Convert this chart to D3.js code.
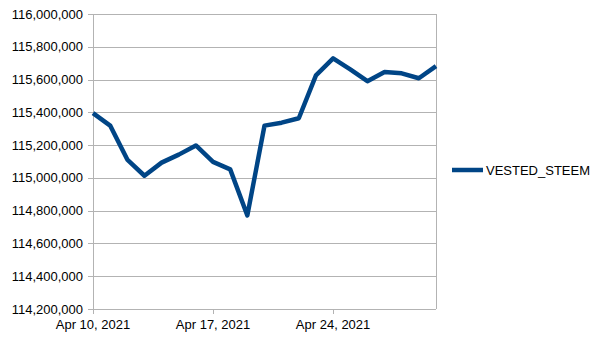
<!DOCTYPE html>
<html>
<head>
<meta charset="utf-8">
<script src="https://cdn.jsdelivr.net/npm/d3@7"></script>
<style>
	body { margin: 0; background: #fff; }
	text { font-family: "Liberation Sans", Arial, sans-serif; fill: #000; }
</style>
</head>
<body>
<div id="chart"></div>
<script>
// Daily values, Apr 10 .. Apr 30, 2021
const startDate = '2021-04-10';
const seriesName = 'VESTED_STEEM';
const vestedSteem = [
	115395000, 115319000, 115112000, 115013000, 115093000, 115142000, 115198000,
	115098000, 115052000, 114771000, 115319000, 115337000, 115364000, 115626000,
	115729000, 115662000, 115590000, 115646000, 115638000, 115608000, 115682000,
];
const yTicks = [
	114200000, 114400000, 114600000, 114800000, 115000000,
	115200000, 115400000, 115600000, 115800000, 116000000,
];
const xTickLabels = [ 'Apr 10, 2021', 'Apr 17, 2021', 'Apr 24, 2021' ];

const width = 605;
const height = 340;
const margin = { top: 14, right: 169, bottom: 31, left: 93 };

const parse = d3.timeParse( '%Y-%m-%d' );
const start = parse( startDate );
const data = vestedSteem.map( ( v, i ) => ( { date: d3.timeDay.offset( start, i ), value: v } ) );

const svg = d3.select( '#chart' )
	.append( 'svg' )
	.attr( 'width', width )
	.attr( 'height', height );

const x = d3.scaleTime()
	.domain( d3.extent( data, ( d ) => d.date ) )
	.range( [ margin.left, width - margin.right ] );

const y = d3.scaleLinear()
	.domain( [ 114200000, 116000000 ] )
	.range( [ height - margin.bottom, margin.top ] );

const fmt = d3.format( ',' );
const grid = '#b3b3b3';

// horizontal grid lines + left ticks
svg.append( 'g' )
	.selectAll( 'line' )
	.data( yTicks )
	.enter()
	.append( 'line' )
	.attr( 'x1', margin.left - 5 )
	.attr( 'x2', width - margin.right )
	.attr( 'y1', ( d ) => Math.round( y( d ) ) + 0.5 )
	.attr( 'y2', ( d ) => Math.round( y( d ) ) + 0.5 )
	.attr( 'stroke', grid );

// y labels
svg.append( 'g' )
	.selectAll( 'text' )
	.data( yTicks )
	.enter()
	.append( 'text' )
	.attr( 'x', margin.left - 10 )
	.attr( 'y', ( d ) => y( d ) )
	.attr( 'dy', '0.35em' )
	.attr( 'text-anchor', 'end' )
	.style( 'font-size', '13px' )
	.text( ( d ) => fmt( d ) );

// left and right frame lines
[ margin.left, width - margin.right ].forEach( ( px ) => {
	svg.append( 'line' )
		.attr( 'x1', Math.round( px ) + 0.5 )
		.attr( 'x2', Math.round( px ) + 0.5 )
		.attr( 'y1', margin.top )
		.attr( 'y2', height - margin.bottom )
		.attr( 'stroke', grid );
} );

// x ticks (weekly)
const xTicks = xTickLabels.map( ( t, i ) => d3.timeDay.offset( start, i * 7 ) );
const xg = svg.append( 'g' );
xg.selectAll( 'line' )
	.data( xTicks )
	.enter()
	.append( 'line' )
	.attr( 'x1', ( d ) => Math.round( x( d ) ) + 0.5 )
	.attr( 'x2', ( d ) => Math.round( x( d ) ) + 0.5 )
	.attr( 'y1', height - margin.bottom )
	.attr( 'y2', height - margin.bottom + 5 )
	.attr( 'stroke', grid );
xg.selectAll( 'text' )
	.data( xTicks )
	.enter()
	.append( 'text' )
	.attr( 'x', ( d ) => x( d ) )
	.attr( 'y', height - margin.bottom + 20 )
	.attr( 'text-anchor', 'middle' )
	.style( 'font-size', '13px' )
	.text( ( d, i ) => xTickLabels[ i ] );

// series line
const line = d3.line()
	.x( ( d ) => x( d.date ) )
	.y( ( d ) => y( d.value ) );

svg.append( 'path' )
	.datum( data )
	.attr( 'd', line )
	.attr( 'fill', 'none' )
	.attr( 'stroke', '#004586' )
	.attr( 'stroke-width', 4.5 )
	.attr( 'stroke-linejoin', 'round' );

// legend
const legend = svg.append( 'g' )
	.attr( 'transform', 'translate(452, 170)' );
legend.append( 'line' )
	.attr( 'x1', 0 )
	.attr( 'x2', 31 )
	.attr( 'stroke', '#004586' )
	.attr( 'stroke-width', 4.5 );
legend.append( 'text' )
	.attr( 'x', 34 )
	.attr( 'dy', '0.35em' )
	.style( 'font-size', '13px' )
	.text( seriesName );
</script>
</body>
</html>
